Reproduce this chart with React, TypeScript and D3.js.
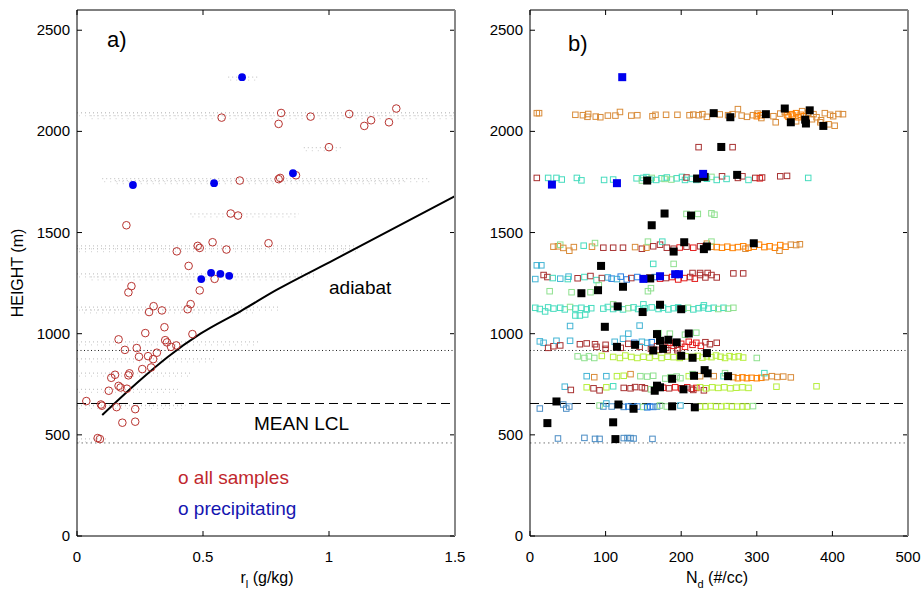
import React from "react";
import * as d3 from "d3";

// ---------- DATA ----------
const yTicks = [0, 500, 1000, 1500, 2000, 2500];
const xTicksA = [0, 0.5, 1, 1.5];
const xTicksALabels = ["0", "0.5", "1", "1.5"];
const xTicksB = [0, 100, 200, 300, 400, 500];

// reference lines (m)
const cloudBaseDotted = 917;
const meanLCL = 655;
const lowerDotted = 460;

// adiabat [r_l, height]
const adiabat: [number, number][] = [
  [0.1, 598], [0.25, 770], [0.36, 885], [0.49, 1000], [0.65, 1112],
  [0.79, 1215], [1.02, 1365], [1.5, 1680],
];

// grey 1-Hz sample bands [height, rMin, rMax]
const greyBands: [number, number, number][] = [
  [2092, 0.0, 1.5], [2078, 0.05, 1.5], [1766, 0.1, 1.4], [1757, 0.15, 1.3],
  [1592, 0.45, 0.88], [1434, 0.0, 1.1], [1420, 0.0, 1.12], [1296, 0.0, 0.95],
  [1281, 0.05, 0.9], [1131, 0.0, 0.8], [1118, 0.02, 0.7], [960, 0.0, 0.72],
  [876, 0.0, 0.55], [805, 0.0, 0.45], [725, 0.0, 0.4], [645, 0.0, 0.43],
  [480, 0.0, 0.12], [2268, 0.6, 0.72], [1920, 0.9, 1.05],
];

// panel a: all samples [r_l, height]
const allSamples: [number, number][] = [
  [0.574, 2068], [0.81, 2091], [0.8, 2037], [0.927, 2073], [1.08, 2086],
  [1.14, 2027], [1.167, 2055], [1.238, 2045], [1.267, 2113], [1.0, 1922],
  [0.646, 1757], [0.8, 1764], [0.806, 1770], [0.869, 1783], [0.61, 1594],
  [0.639, 1584], [0.196, 1536], [0.396, 1407], [0.479, 1434], [0.487, 1424],
  [0.538, 1452], [0.593, 1416], [0.76, 1447], [0.443, 1335], [0.546, 1271],
  [0.216, 1235], [0.204, 1204], [0.487, 1214], [0.304, 1136], [0.286, 1107],
  [0.337, 1115], [0.451, 1146], [0.439, 1121], [0.347, 1032], [0.271, 1003],
  [0.458, 998], [0.165, 972], [0.35, 968], [0.357, 957], [0.373, 935],
  [0.394, 942], [0.19, 920], [0.237, 929], [0.246, 886], [0.317, 906],
  [0.282, 889], [0.302, 874], [0.259, 825], [0.294, 833], [0.151, 797],
  [0.136, 782], [0.208, 804], [0.204, 794], [0.165, 742], [0.173, 734],
  [0.198, 728], [0.126, 718], [0.037, 667], [0.095, 650], [0.099, 644],
  [0.157, 637], [0.231, 627], [0.18, 560], [0.231, 565], [0.082, 484],
  [0.091, 479],
];

// panel a: precipitating [r_l, height]
const precipA: [number, number][] = [
  [0.655, 2268], [0.222, 1735], [0.544, 1744], [0.857, 1793],
  [0.493, 1270], [0.532, 1301], [0.569, 1296], [0.604, 1286],
];

// panel b palette (per flight leg)
const legColors = [
  "#d98c3a", // 0 orange-brown
  "#ff8000", // 1 bright orange
  "#a83232", // 2 dark red
  "#e41a1a", // 3 red
  "#46dcbe", // 4 turquoise
  "#8ee08e", // 5 light green
  "#b6ee3c", // 6 yellow-green
  "#42b4d4", // 7 sky cyan
  "#2a7fe0", // 8 medium blue
  "#4a8cc4", // 9 steel blue
];

// panel b: all samples [N_d, height, leg]
const band2085: [number, number, number][] = [
  [9, 2090, 0], [12, 2090, 0], [60, 2082, 0], [70, 2080, 0], [76, 2072, 0], [77, 2086, 0],
  [87, 2073, 0], [93, 2070, 0], [103, 2078, 0], [113, 2078, 0], [119, 2096, 0], [134, 2078, 0],
  [142, 2080, 0], [162, 2075, 0], [166, 2082, 0], [180, 2082, 0], [195, 2082, 0], [211, 2080, 0],
  [216, 2083, 0], [223, 2080, 0], [228, 2085, 0], [234, 2072, 0], [251, 2084, 0], [262, 2080, 0],
  [268, 2085, 0], [275, 2110, 0], [280, 2078, 0], [287, 2072, 0], [295, 2080, 0], [301, 2088, 0],
  [306, 2066, 0], [300, 2075, 1], [305, 2080, 1], [322, 2075, 0], [325, 2045, 0], [331, 2088, 0],
  [337, 2095, 0], [340, 2080, 1], [342, 2072, 1], [346, 2085, 1], [348, 2078, 1], [352, 2090, 1],
  [352, 2050, 0], [355, 2070, 1], [358, 2082, 1], [360, 2100, 0], [362, 2075, 1], [368, 2092, 0],
  [373, 2060, 0], [375, 2085, 0], [379, 2070, 0], [384, 2045, 0], [385, 2055, 0], [390, 2090, 0],
  [395, 2035, 0], [397, 2082, 0], [401, 2075, 0], [403, 2028, 0], [408, 2086, 0], [414, 2085, 0],
];
const band1920: [number, number, number][] = [[223, 1922, 2], [268, 1922, 2]];
const band1765: [number, number, number][] = [
  [9, 1770, 2], [24, 1770, 4], [35, 1770, 4], [42, 1762, 4], [62, 1770, 4], [68, 1758, 4],
  [98, 1760, 4], [110, 1762, 4], [141, 1768, 4], [148, 1757, 5], [150, 1770, 4], [154, 1774, 4],
  [158, 1762, 4], [161, 1770, 5], [167, 1760, 4], [174, 1768, 4], [178, 1765, 5], [181, 1772, 4],
  [187, 1762, 5], [194, 1768, 4], [201, 1775, 4], [205, 1760, 4], [207, 1772, 2], [214, 1765, 4],
  [220, 1760, 4], [227, 1770, 4], [230, 1776, 2], [234, 1766, 4], [240, 1775, 5], [247, 1760, 4],
  [254, 1778, 2], [260, 1765, 4], [275, 1770, 2], [281, 1778, 2], [289, 1760, 4], [298, 1770, 2],
  [304, 1768, 3], [307, 1772, 2], [331, 1778, 2], [340, 1780, 2], [368, 1770, 4],
];
const band1590: [number, number, number][] = [
  [207, 1592, 5], [222, 1592, 5], [240, 1595, 5], [244, 1588, 5],
];
const band1430: [number, number, number][] = [
  [31, 1430, 0], [37, 1432, 0], [40, 1440, 5], [44, 1424, 0], [52, 1410, 0], [58, 1428, 0],
  [71, 1435, 4], [82, 1430, 0], [86, 1448, 5], [97, 1425, 2], [110, 1425, 2], [123, 1425, 2],
  [139, 1428, 0], [148, 1420, 2], [154, 1425, 0], [156, 1455, 5], [163, 1432, 2], [172, 1440, 2],
  [175, 1455, 4], [181, 1425, 2], [190, 1420, 2], [198, 1426, 3], [207, 1430, 2], [216, 1425, 3],
  [225, 1432, 2], [234, 1445, 0], [240, 1430, 0], [240, 1455, 5], [247, 1428, 1], [254, 1425, 1],
  [261, 1430, 1], [268, 1424, 1], [275, 1428, 1], [282, 1432, 1], [285, 1420, 0], [289, 1425, 1],
  [296, 1430, 1], [303, 1440, 1], [310, 1428, 1], [317, 1432, 1], [324, 1425, 1], [330, 1410, 0],
  [331, 1438, 1], [338, 1430, 1], [345, 1440, 0], [352, 1438, 0], [357, 1442, 0],
];
const band1280: [number, number, number][] = [
  [9, 1338, 7], [15, 1338, 7], [163, 1345, 4], [190, 1345, 5],
  [7, 1270, 7], [18, 1290, 2], [23, 1280, 2], [30, 1275, 4], [40, 1272, 7], [50, 1270, 4],
  [51, 1282, 7], [63, 1274, 2], [72, 1280, 4], [80, 1285, 2], [88, 1265, 4], [95, 1275, 2],
  [103, 1278, 7], [108, 1272, 8], [115, 1270, 7], [120, 1282, 8], [128, 1268, 8], [134, 1275, 2],
  [142, 1280, 8], [150, 1270, 8], [158, 1276, 3], [165, 1280, 8], [172, 1272, 3], [180, 1275, 2],
  [188, 1280, 3], [196, 1268, 3], [204, 1275, 3], [212, 1280, 2], [215, 1300, 2], [218, 1272, 3],
  [225, 1290, 2], [225, 1300, 2], [232, 1278, 2], [235, 1300, 2], [240, 1290, 2], [247, 1278, 2],
  [269, 1298, 2], [282, 1298, 2],
];
const band1210: [number, number, number][] = [
  [26, 1210, 5], [55, 1205, 5], [80, 1205, 5], [91, 1240, 5], [156, 1210, 5], [160, 1225, 5],
];
const band1130: [number, number, number][] = [
  [7, 1128, 4], [13, 1122, 4], [20, 1110, 4], [24, 1130, 4], [31, 1124, 4], [40, 1128, 4],
  [46, 1120, 4], [53, 1132, 5], [60, 1124, 4], [60, 1090, 4], [66, 1090, 4], [68, 1128, 4],
  [73, 1095, 4], [75, 1120, 4], [81, 1126, 4], [97, 1124, 4], [103, 1132, 4], [110, 1122, 4],
  [110, 1145, 5], [117, 1128, 4], [123, 1120, 4], [130, 1126, 5], [137, 1130, 4], [143, 1122, 4],
  [150, 1145, 4], [152, 1126, 4], [161, 1130, 4], [170, 1122, 4], [176, 1128, 4], [183, 1120, 4],
  [190, 1126, 4], [196, 1130, 4], [203, 1124, 4], [209, 1128, 5], [216, 1120, 4], [223, 1126, 4],
  [229, 1130, 4], [230, 1140, 4], [236, 1124, 4], [243, 1128, 4], [249, 1122, 5], [256, 1128, 4],
  [262, 1124, 5], [269, 1128, 5],
];
const band1000: [number, number, number][] = [
  [53, 1038, 7], [145, 1040, 7], [130, 1000, 7], [170, 1003, 5], [185, 1000, 5], [205, 995, 5],
  [220, 1005, 5],
];
const band940: [number, number, number][] = [
  [13, 962, 7], [18, 955, 7], [24, 930, 2], [31, 938, 2], [35, 965, 7], [40, 942, 2],
  [53, 965, 7], [66, 948, 2], [75, 952, 2], [86, 948, 2], [88, 935, 2], [100, 945, 2],
  [100, 925, 2], [112, 960, 7], [120, 930, 2], [123, 975, 7], [130, 950, 2], [138, 955, 8],
  [145, 935, 2], [148, 960, 7], [155, 955, 7], [160, 925, 2], [161, 958, 8], [168, 938, 2],
  [170, 920, 2], [175, 945, 3], [180, 930, 2], [182, 918, 2], [185, 955, 3], [190, 940, 3],
  [195, 928, 2], [195, 918, 2], [200, 950, 3], [205, 935, 3], [210, 960, 3], [215, 945, 3],
  [220, 955, 3], [226, 940, 3], [232, 958, 2], [238, 948, 2], [247, 955, 2],
];
const band890: [number, number, number][] = [
  [63, 888, 5], [72, 880, 5], [78, 888, 5], [85, 880, 5], [95, 890, 6], [110, 885, 6],
  [119, 880, 6], [126, 892, 6], [134, 885, 6], [142, 880, 6], [150, 886, 6], [158, 882, 6],
  [166, 890, 6], [174, 880, 6], [182, 886, 6], [190, 884, 6], [198, 880, 6], [206, 888, 6],
  [216, 885, 6], [222, 890, 6], [228, 882, 6], [234, 888, 6], [240, 884, 6], [246, 892, 6],
  [252, 886, 6], [258, 880, 6], [264, 889, 6], [270, 884, 6], [276, 888, 6], [282, 882, 6],
  [300, 880, 5],
];
const band790: [number, number, number][] = [
  [75, 790, 7], [85, 785, 0], [101, 790, 7], [115, 790, 6], [124, 792, 6], [133, 800, 0],
  [146, 790, 5], [155, 788, 5], [163, 792, 5], [179, 778, 5], [186, 785, 5], [194, 788, 5],
  [199, 780, 5], [210, 790, 6], [215, 800, 5], [225, 790, 0], [243, 790, 0], [256, 790, 4],
  [258, 805, 5], [269, 785, 0], [275, 780, 1], [281, 784, 1], [287, 780, 1], [293, 782, 1],
  [300, 780, 1], [306, 782, 1], [310, 805, 4], [312, 785, 0], [320, 790, 0], [327, 786, 0],
  [335, 788, 0], [345, 784, 0],
];
const band730: [number, number, number][] = [
  [46, 738, 7], [54, 722, 2], [75, 735, 6], [84, 730, 2], [92, 720, 2], [101, 735, 6],
  [110, 740, 4], [124, 732, 2], [133, 730, 2], [139, 736, 2], [148, 735, 2], [152, 730, 2],
  [160, 725, 5], [176, 733, 3], [184, 730, 2], [192, 735, 3], [200, 730, 3], [208, 735, 3],
  [214, 728, 2], [216, 722, 2], [220, 732, 3], [225, 735, 6], [230, 720, 2], [233, 730, 6],
  [241, 735, 6], [249, 732, 6], [257, 735, 6], [265, 730, 6], [273, 733, 6], [281, 735, 6],
  [289, 732, 6], [326, 738, 6], [379, 740, 6],
];
const band640: [number, number, number][] = [
  [13, 630, 9], [44, 650, 9], [48, 630, 9], [52, 640, 9], [92, 645, 5], [97, 640, 9],
  [101, 655, 7], [108, 640, 9], [124, 638, 9], [130, 640, 8], [136, 636, 8], [142, 640, 8],
  [150, 638, 5], [155, 636, 8], [159, 640, 8], [163, 638, 8], [168, 640, 9], [172, 645, 5],
  [181, 640, 5], [188, 640, 5], [199, 645, 7], [225, 640, 6], [232, 640, 6], [239, 642, 6],
  [246, 640, 6], [253, 640, 6], [260, 642, 6], [267, 640, 6], [274, 640, 6], [281, 640, 6],
  [287, 640, 6], [295, 642, 5],
];
const band480: [number, number, number][] = [
  [37, 482, 9], [72, 485, 9], [86, 480, 9], [92, 480, 9], [124, 484, 9], [129, 484, 9],
  [133, 484, 9], [137, 482, 9], [162, 480, 9],
];

// panel b: leg means (black) [N_d, height]
const legMeans: [number, number][] = [
  [243, 2090], [265, 2070], [312, 2085], [337, 2113], [370, 2104], [345, 2045], [364, 2058],
  [365, 2039], [388, 2027], [253, 1923], [155, 1757], [221, 1767], [231, 1775], [274, 1785],
  [178, 1594], [161, 1536], [213, 1584], [296, 1447], [204, 1452], [234, 1431], [230, 1418],
  [190, 1406], [94, 1335], [159, 1273], [123, 1232], [90, 1215], [68, 1200], [116, 1135],
  [172, 1143], [200, 1121], [149, 1107], [99, 1034], [168, 998], [210, 1001], [172, 965],
  [183, 970], [194, 957], [139, 945], [115, 935], [163, 917], [176, 925], [200, 891],
  [234, 904], [215, 881], [231, 820], [235, 804], [188, 777], [217, 792], [262, 790],
  [168, 743], [172, 735], [165, 718], [203, 725], [35, 665], [117, 650], [137, 629],
  [188, 641], [218, 636], [23, 558], [110, 562], [113, 479],
];

// panel b: precipitating (blue) [N_d, height]
const precipB: [number, number][] = [
  [122, 2268], [29, 1737], [115, 1744], [229, 1790], [150, 1271], [172, 1284], [192, 1294], [197, 1294],
];

// ---------- LAYOUT ----------
const W = 922;
const H = 595;
const FONT = "'Liberation Sans', Arial, Helvetica, sans-serif";

const yScale = d3.scaleLinear().domain([0, 2600]).range([536, 10]);
const xA = d3.scaleLinear().domain([0, 1.5]).range([77, 455]);
const xB = d3.scaleLinear().domain([0, 500]).range([530, 908]);

const allBandsB = [
  band2085, band1920, band1765, band1590, band1430, band1280, band1210,
  band1130, band1000, band940, band890, band790, band730, band640, band480,
];

function Frame({ x, ticksX, labelsX }: { x: d3.ScaleLinear<number, number>; ticksX: number[]; labelsX: string[] }) {
  const [x0, x1] = x.range();
  const y0 = yScale(0);
  const y1 = 10;
  const tl = 5;
  return (
    <g>
      {ticksX.map((t, i) => (
        <g key={"xt" + i}>
          <line x1={x(t)} x2={x(t)} y1={y0} y2={y0 - tl} stroke="#000" />
          <line x1={x(t)} x2={x(t)} y1={y1} y2={y1 + tl} stroke="#000" />
          <text x={x(t)} y={y0 + 26} textAnchor="middle" fontSize={15} fontFamily={FONT}>
            {labelsX[i]}
          </text>
        </g>
      ))}
      {yTicks.map((t) => (
        <g key={"yt" + t}>
          <line x1={x0} x2={x0 + tl} y1={yScale(t)} y2={yScale(t)} stroke="#000" />
          <line x1={x1} x2={x1 - tl} y1={yScale(t)} y2={yScale(t)} stroke="#000" />
          <text x={x0 - 7} y={yScale(t) + 5} textAnchor="end" fontSize={15} fontFamily={FONT}>
            {t}
          </text>
        </g>
      ))}
      <line x1={x0} x2={x1} y1={y1} y2={y1} stroke="#000" />
      <line x1={x0} x2={x1} y1={y0} y2={y0} stroke="#000" />
      <line x1={x0} x2={x0} y1={y1} y2={y0} stroke="#000" />
      <line x1={x1} x2={x1} y1={y1} y2={y0} stroke="#888" strokeWidth={2} />
    </g>
  );
}

function RefLines({ x }: { x: d3.ScaleLinear<number, number> }) {
  const [x0, x1] = x.range();
  return (
    <g>
      <line x1={x0} x2={x1} y1={yScale(cloudBaseDotted)} y2={yScale(cloudBaseDotted)} stroke="#222" strokeDasharray="1 2.5" />
      <line x1={x0} x2={x1} y1={yScale(meanLCL)} y2={yScale(meanLCL)} stroke="#000" strokeDasharray="9 5" />
      <line x1={x0} x2={x1} y1={yScale(lowerDotted)} y2={yScale(lowerDotted)} stroke="#777" strokeDasharray="1.5 3" />
    </g>
  );
}

export default function App() {
  const adiabatPath = d3
    .line<[number, number]>()
    .x((d) => xA(d[0]))
    .y((d) => yScale(d[1]))
    .curve(d3.curveMonotoneX)(adiabat) as string;

  const hs = 5.5; // hollow square size
  const fs = 8; // filled square size

  return (
    <svg width={W} height={H} style={{ position: "absolute", left: 0, top: 0, background: "#fff" }}>
      <rect x={0} y={0} width={W} height={H} fill="#fff" />

      {/* ---------- Panel a ---------- */}
      <g>
        {greyBands.map((b, i) => (
          <g key={"gb" + i}>
            <line x1={xA(b[1])} x2={xA(b[2])} y1={yScale(b[0])} y2={yScale(b[0])} stroke="#c8c8c8" strokeWidth={1.3} strokeDasharray="1 3" />
            <line x1={xA(b[1]) + 2} x2={xA(b[2])} y1={yScale(b[0]) + 3} y2={yScale(b[0]) + 3} stroke="#d8d8d8" strokeWidth={1.2} strokeDasharray="1 5" />
          </g>
        ))}
        <RefLines x={xA} />
        <path d={adiabatPath} fill="none" stroke="#000" strokeWidth={2} />
        {allSamples.map((d, i) => (
          <circle key={"as" + i} cx={xA(d[0])} cy={yScale(d[1])} r={3.8} fill="none" stroke="#b8332f" strokeWidth={1} />
        ))}
        {precipA.map((d, i) => (
          <circle key={"pa" + i} cx={xA(d[0])} cy={yScale(d[1])} r={3.9} fill="#0000ee" />
        ))}
        <Frame x={xA} ticksX={xTicksA} labelsX={xTicksALabels} />
        <text x={107} y={47} fontSize={22} fontFamily={FONT}>a)</text>
        <text x={329} y={294} fontSize={19} fontFamily={FONT}>adiabat</text>
        <text x={254} y={430} fontSize={19} fontFamily={FONT}>MEAN LCL</text>
        <text x={178} y={484} fontSize={19} fontFamily={FONT} fill="#c0272d">o all samples</text>
        <text x={178} y={515} fontSize={19} fontFamily={FONT} fill="#1515b0">o precipitating</text>
        <text transform="translate(23,273) rotate(-90)" textAnchor="middle" fontSize={16} fontFamily={FONT}>
          HEIGHT (m)
        </text>
        <text x={267} y={583} textAnchor="middle" fontSize={16} fontFamily={FONT}>
          r<tspan dy={5} fontSize={11}>l</tspan>
          <tspan dy={-5}> (g/kg)</tspan>
        </text>
      </g>

      {/* ---------- Panel b ---------- */}
      <g>
        <RefLines x={xB} />
        {allBandsB.map((band, bi) =>
          band.map((d, i) => (
            <rect
              key={"hs" + bi + "_" + i}
              x={xB(d[0]) - hs / 2}
              y={yScale(d[1]) - hs / 2}
              width={hs}
              height={hs}
              fill="none"
              stroke={legColors[d[2]]}
              strokeWidth={1}
            />
          ))
        )}
        {legMeans.map((d, i) => (
          <rect key={"lm" + i} x={xB(d[0]) - fs / 2} y={yScale(d[1]) - fs / 2} width={fs} height={fs} fill="#000" />
        ))}
        {precipB.map((d, i) => (
          <rect key={"pb" + i} x={xB(d[0]) - fs / 2} y={yScale(d[1]) - fs / 2} width={fs} height={fs} fill="#0000ee" />
        ))}
        <Frame x={xB} ticksX={xTicksB} labelsX={xTicksB.map(String)} />
        <text x={568} y={51} fontSize={22} fontFamily={FONT}>b)</text>
        <text x={717} y={583} textAnchor="middle" fontSize={16} fontFamily={FONT}>
          N<tspan dy={5} fontSize={11}>d</tspan>
          <tspan dy={-5}> (#/cc)</tspan>
        </text>
      </g>
    </svg>
  );
}
